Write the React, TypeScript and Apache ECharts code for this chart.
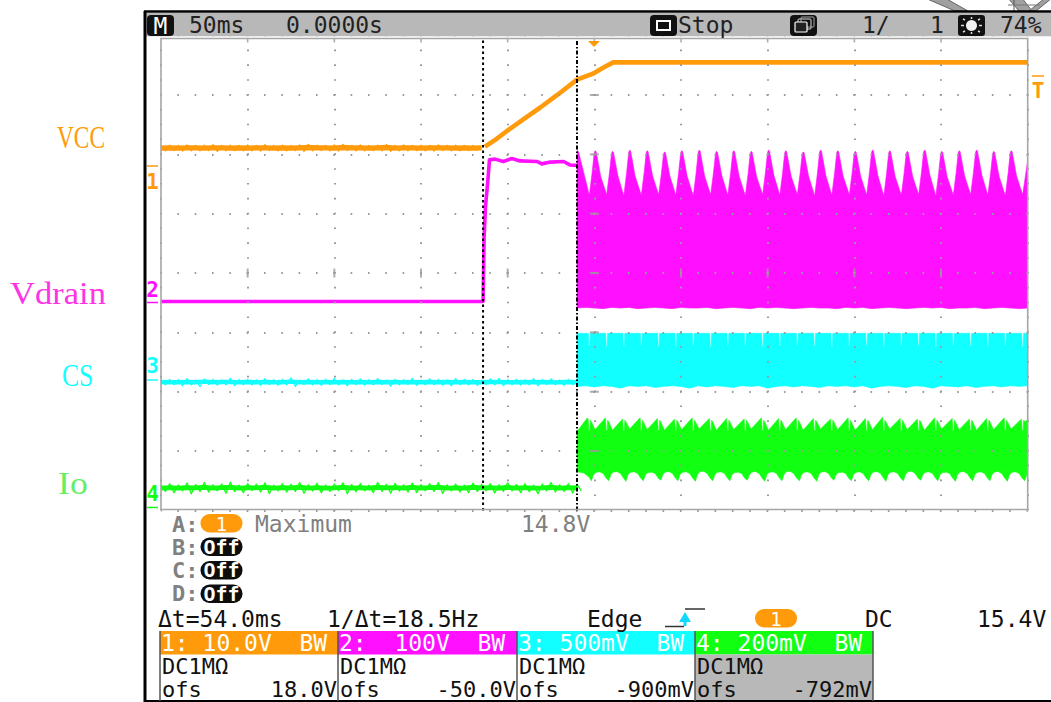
import React, { useEffect, useRef } from "react";
import * as echarts from "echarts";

// Time is in ms (50 ms/div), vertical position in graticule divisions (0 = bottom).
const vccTrace: number[][] = [[186.9, 6.13], [193, 6.25], [199.4, 6.39], [209, 6.59], [218.8, 6.79], [229, 7.01], [240, 7.26], [249.2, 7.36], [255, 7.46], [260.9, 7.55], [300, 7.55], [340, 7.55], [400, 7.55], [500, 7.55]];
const drainPulse: number[][] = [[0, 3.52], [185.8, 3.52], [186.4, 4.61], [187.2, 5.12], [188.6, 5.57], [189.5, 5.91], [192.7, 5.92], [197.5, 5.88], [202.4, 5.93], [207.1, 5.89], [216.8, 5.88], [219.7, 5.84], [224.6, 5.87], [232.3, 5.88], [236.1, 5.82], [240, 5.815]];

const baseTimes = [0, 5, 10, 15, 20, 25, 30, 35, 40, 45, 50, 55, 60, 65, 70, 75, 80, 85, 90, 95, 100, 105, 110, 115, 120, 125, 130, 135, 140, 145, 150, 155, 160, 165, 170, 175, 180, 185, 190, 195, 200, 205, 210, 215, 220, 225, 230, 235, 240];
const vccBase = [6.105, 6.11, 6.105, 6.11, 6.11, 6.105, 6.11, 6.11, 6.105, 6.11, 6.105, 6.11, 6.11, 6.105, 6.11, 6.105, 6.11, 6.115, 6.11, 6.11, 6.105, 6.115, 6.11, 6.11, 6.105, 6.11, 6.115, 6.105, 6.11, 6.11, 6.105, 6.11, 6.11, 6.11, 6.105, 6.11, 6.105, 6.11];
const vccHi = [6.15, 6.155, 6.15, 6.16, 6.15, 6.155, 6.165, 6.15, 6.155, 6.15, 6.16, 6.15, 6.165, 6.15, 6.155, 6.15, 6.16, 6.17, 6.155, 6.15, 6.16, 6.17, 6.15, 6.16, 6.15, 6.155, 6.165, 6.15, 6.16, 6.15, 6.155, 6.15, 6.16, 6.15, 6.155, 6.15, 6.15];
const vccLo = [6.06, 6.065, 6.055, 6.06, 6.06, 6.065, 6.05, 6.06, 6.065, 6.06, 6.06, 6.055, 6.065, 6.06, 6.06, 6.065, 6.05, 6.06, 6.065, 6.06, 6.055, 6.065, 6.06, 6.06, 6.065, 6.06, 6.05, 6.06, 6.06, 6.065, 6.06, 6.055, 6.065, 6.06, 6.06, 6.065, 6.06];
const csBase = [2.165, 2.16, 2.16, 2.165, 2.16, 2.17, 2.16, 2.165, 2.165, 2.16, 2.165, 2.16, 2.165, 2.16, 2.16, 2.17, 2.16, 2.165, 2.16, 2.165, 2.16, 2.165, 2.16, 2.165, 2.16, 2.165, 2.16, 2.165, 2.16, 2.165, 2.16, 2.165, 2.16, 2.165, 2.16, 2.165, 2.16, 2.16, 2.165, 2.165, 2.16, 2.16, 2.165, 2.16, 2.165, 2.16, 2.16, 2.165, 2.16];
const csHi = [2.2, 2.21, 2.205, 2.22, 2.2, 2.215, 2.21, 2.2, 2.225, 2.205, 2.21, 2.2, 2.22, 2.205, 2.21, 2.235, 2.2, 2.215, 2.205, 2.21, 2.225, 2.2, 2.21, 2.215, 2.205, 2.22, 2.2, 2.21, 2.205, 2.225, 2.2, 2.215, 2.21, 2.2, 2.22, 2.205, 2.21, 2.2, 2.215, 2.225, 2.205, 2.21, 2.2, 2.22, 2.205, 2.215, 2.2, 2.21, 2.205];
const csLo = [2.115, 2.12, 2.1, 2.115, 2.085, 2.12, 2.11, 2.115, 2.1, 2.12, 2.115, 2.105, 2.12, 2.11, 2.115, 2.09, 2.12, 2.115, 2.105, 2.12, 2.115, 2.1, 2.12, 2.11, 2.115, 2.12, 2.095, 2.115, 2.12, 2.105, 2.115, 2.12, 2.11, 2.1, 2.12, 2.115, 2.105, 2.12, 2.115, 2.1, 2.12, 2.11, 2.115, 2.1, 2.12, 2.115, 2.105, 2.12, 2.115];
const ioBase = [0.375, 0.385, 0.375, 0.385, 0.38, 0.39, 0.375, 0.385, 0.39, 0.375, 0.385, 0.38, 0.39, 0.375, 0.385, 0.38, 0.39, 0.375, 0.385, 0.375, 0.38, 0.39, 0.375, 0.385, 0.375, 0.39, 0.38, 0.385, 0.375, 0.39, 0.375, 0.385, 0.39, 0.375, 0.38, 0.375, 0.39, 0.38, 0.385, 0.375, 0.39, 0.375, 0.385, 0.375, 0.38, 0.39, 0.375, 0.385, 0.38];
const ioHi = [0.43, 0.45, 0.425, 0.46, 0.435, 0.47, 0.43, 0.445, 0.475, 0.425, 0.45, 0.44, 0.465, 0.425, 0.45, 0.44, 0.47, 0.43, 0.455, 0.425, 0.445, 0.465, 0.435, 0.45, 0.425, 0.47, 0.44, 0.455, 0.43, 0.46, 0.435, 0.45, 0.47, 0.43, 0.445, 0.425, 0.46, 0.44, 0.45, 0.43, 0.465, 0.435, 0.45, 0.425, 0.445, 0.47, 0.43, 0.45, 0.44];
const ioLo = [0.32, 0.3, 0.33, 0.28, 0.32, 0.31, 0.33, 0.29, 0.32, 0.3, 0.335, 0.31, 0.285, 0.33, 0.31, 0.32, 0.29, 0.33, 0.3, 0.32, 0.335, 0.28, 0.315, 0.33, 0.3, 0.32, 0.29, 0.33, 0.31, 0.3, 0.33, 0.32, 0.285, 0.33, 0.31, 0.3, 0.32, 0.33, 0.295, 0.32, 0.33, 0.3, 0.315, 0.28, 0.33, 0.31, 0.32, 0.295, 0.33];

const notchTimes = [247.1, 257.1, 267.0, 277.1, 287.1, 297.0, 307.1, 317.1, 327.0, 337.1, 347.1, 357.0, 367.1, 377.1, 387.0, 397.1, 407.1, 417.0, 427.1, 437.1, 447.0, 457.1, 467.1, 477.0, 487.1, 497.1];
const drainPeaks = [6.07, 6.06, 6.05, 6.07, 6.06, 6.04, 6.06, 6.07, 6.05, 6.06, 6.05, 6.07, 6.06, 6.04, 6.07, 6.06, 6.05, 6.07, 6.06, 6.05, 6.07, 6.05, 6.06, 6.07, 6.05, 6.06, 5.9];
const drainValleys = [5.31, 5.32, 5.3, 5.31, 5.32, 5.31, 5.3, 5.32, 5.31, 5.3, 5.32, 5.31, 5.32, 5.3, 5.31, 5.32, 5.31, 5.3, 5.31, 5.32, 5.3, 5.31, 5.32, 5.31, 5.3, 5.32];
const sampleTimes = [240, 245, 250, 255, 260, 265, 270, 275, 280, 285, 290, 295, 300, 305, 310, 315, 320, 325, 330, 335, 340, 345, 350, 355, 360, 365, 370, 375, 380, 385, 390, 395, 400, 405, 410, 415, 420, 425, 430, 435, 440, 445, 450, 455, 460, 465, 470, 475, 480, 485, 490, 495, 500];
const drainFloor = [3.41, 3.42, 3.41, 3.4, 3.42, 3.41, 3.42, 3.4, 3.41, 3.42, 3.41, 3.4, 3.42, 3.41, 3.41, 3.42, 3.4, 3.41, 3.42, 3.41, 3.4, 3.42, 3.41, 3.42, 3.41, 3.4, 3.41, 3.42, 3.41, 3.41, 3.4, 3.42, 3.41, 3.42, 3.4, 3.41, 3.42, 3.41, 3.4, 3.41, 3.42, 3.41, 3.42, 3.4, 3.41, 3.41, 3.42, 3.4, 3.41, 3.42, 3.41, 3.4, 3.41];
const csFloor = [2.09, 2.1, 2.08, 2.1, 2.09, 2.06, 2.1, 2.09, 2.1, 2.07, 2.09, 2.1, 2.09, 2.06, 2.1, 2.08, 2.1, 2.09, 2.07, 2.1, 2.09, 2.1, 2.06, 2.09, 2.1, 2.08, 2.1, 2.09, 2.07, 2.1, 2.09, 2.1, 2.08, 2.1, 2.06, 2.09, 2.1, 2.09, 2.07, 2.1, 2.09, 2.06, 2.1, 2.09, 2.08, 2.1, 2.07, 2.09, 2.1, 2.08, 2.1, 2.09, 2.1];
const csNotches = [2.77, 2.76, 2.77, 2.78, 2.76, 2.77, 2.77, 2.76, 2.78, 2.77, 2.76, 2.77, 2.78, 2.77, 2.76, 2.77, 2.78, 2.76, 2.77, 2.77, 2.76, 2.78, 2.77, 2.76, 2.77, 2.76];
const ioPeaks = [1.55, 1.56, 1.54, 1.56, 1.55, 1.54, 1.56, 1.55, 1.55, 1.54, 1.56, 1.55, 1.56, 1.55, 1.54, 1.56, 1.55, 1.57, 1.55, 1.54, 1.56, 1.55, 1.54, 1.55, 1.56, 1.54];
const ioSags = [1.36, 1.35, 1.37, 1.36, 1.35, 1.36, 1.37, 1.35, 1.36, 1.37, 1.35, 1.36, 1.35, 1.37, 1.36, 1.35, 1.36, 1.37, 1.36, 1.35, 1.37, 1.36, 1.35, 1.36, 1.37, 1.36];
const ioLows = [0.5, 0.5, 0.49, 0.5, 0.51, 0.5, 0.49, 0.5, 0.5, 0.51, 0.49, 0.5, 0.5, 0.49, 0.51, 0.5, 0.5, 0.49, 0.5, 0.51, 0.5, 0.49, 0.5, 0.5, 0.49, 0.5];
const ioHighs = [0.65, 0.655, 0.65, 0.645, 0.655, 0.65, 0.66, 0.65, 0.645, 0.655, 0.65, 0.66, 0.65, 0.655, 0.645, 0.65, 0.655, 0.65, 0.66, 0.65, 0.645, 0.655, 0.65, 0.655, 0.65, 0.645];

const centerColumn = [1, 2, 3, 4, 5, 6, 7];
const centerRow = [50, 100, 150, 200, 300, 350, 400, 450];
const frameTicks = [50, 100, 150, 200, 250, 300, 350, 400, 450];
const cursorTimes = [185.8, 240];

const ORANGE = "#ff9a0a";
const MAGENTA = "#ff11ff";
const CYAN = "#11ffff";
const GREEN = "#11ff11";
const MONO = "'DejaVu Sans Mono', monospace";
const SERIF = "'Liberation Serif', serif";

const zigzag = (hi: number[], lo: number[]) => hi.flatMap((h, i) => [[baseTimes[i], h], [baseTimes[i] + 2.5, lo[i]]]);

const drainBand = (): number[][] => {
  const top: number[][] = [[240, 5.9], [240.2, drainPeaks[0]], [240.9, drainPeaks[0] - 0.03]];
  notchTimes.forEach((t, k) => {
    const v = drainValleys[k];
    top.push([t, v]);
    const next = drainPeaks[k + 1];
    if (t + 3.3 < 500) {
      const h = next - v;
      top.push([t + 1.6, v + 0.5 * h], [t + 2.8, v + 0.95 * h], [t + 3.3, next], [t + 3.9, next - 0.01], [t + 6.5, v + 0.5 * h - 0.05]);
    } else {
      top.push([500, next]);
    }
  });
  const bottom = sampleTimes.map((t, k) => [t, drainFloor[k]]).reverse();
  return top.concat(bottom);
};
const csBand = (): number[][] => {
  const top: number[][] = [[240, 2.985]];
  notchTimes.forEach((t, k) => {
    top.push([t - 0.55, 2.985], [t - 0.25, csNotches[k]], [t + 0.25, csNotches[k]], [t + 0.55, 2.985]);
  });
  top.push([500, 2.985]);
  const bottom = sampleTimes.map((t, k) => [t, csFloor[k]]).reverse();
  return top.concat(bottom);
};
const ioBand = (): number[][] => {
  const top: number[][] = [[240, 1.33], [245.7, 1.55]];
  notchTimes.forEach((t, k) => {
    top.push([t - 0.7, ioPeaks[k]], [t - 0.25, 1.34], [t + 0.25, 1.34], [t + 0.6, 1.52], [t + 1.1, 1.5]);
    if (t + 3.3 < 500) top.push([t + 3.3, ioSags[k]]);
    else top.push([500, 1.52]);
  });
  const bottom: number[][] = [[240, 0.652], [244, 0.63], [247, 0.56], [248.2, 0.5]];
  notchTimes.forEach((t, k) => {
    bottom.push([t + 1.2, ioLows[k]], [t + 2.4, 0.6], [t + 3.6, ioHighs[k] - 0.01], [t + 6, ioHighs[k]], [t + 8, 0.62], [t + 9.8, 0.54]);
  });
  const clipped = bottom.filter((p) => p[0] < 500);
  clipped.push([500, 0.63]);
  return top.concat(clipped.reverse());
};

const bandSeries = (name: string, points: number[][], color: string) => ({
  type: "custom",
  name,
  coordinateSystem: "cartesian2d",
  data: points,
  encode: { x: 0, y: 1 },
  clip: true,
  silent: true,
  z: 1,
  renderItem: (params: any, api: any) =>
    params.dataIndex === 0
      ? {
          type: "polygon",
          shape: { points: points.map((p) => api.coord(p)) },
          style: { fill: color, stroke: color, lineWidth: 0.6 },
        }
      : null,
});

const traceSeries = (name: string, data: number[][], color: string, width: number) => ({
  type: "line",
  name,
  data,
  showSymbol: false,
  silent: true,
  z: 1,
  lineStyle: { color, width, join: "round" },
});

const tx = (x: number, y: number, text: string, fill: string, extra: any = {}) => ({
  type: "text",
  x,
  y,
  z: 20,
  silent: true,
  style: { text, fill, font: `${extra.weight || "normal"} ${extra.size || 23}px ${MONO}`, align: extra.align || "left", verticalAlign: "middle" },
});
const box = (x: number, y: number, width: number, height: number, fill: string, r = 0, z = 10) => ({
  type: "rect",
  z,
  silent: true,
  shape: { x, y, width, height, r },
  style: { fill },
});
const seg = (x1: number, y1: number, x2: number, y2: number, stroke: string, lineWidth = 1.5, z = 15) => ({
  type: "line",
  z,
  silent: true,
  shape: { x1, y1, x2, y2 },
  style: { stroke, lineWidth },
});
const poly = (points: number[][], fill: string, stroke?: string, z = 12) => ({
  type: "polygon",
  z,
  silent: true,
  shape: { points },
  style: { fill, stroke: stroke || fill, lineWidth: stroke ? 1 : 0 },
});
const label = (x: number, y: number, text: string, fill: string, scaleX: number) => ({
  type: "text",
  x,
  y,
  scaleX,
  z: 20,
  silent: true,
  style: { text, fill, font: `32px ${SERIF}`, align: "left", verticalAlign: "middle" },
});

const panel = (x0: number, x1: number, head: string, color: string, ofs: string, grey: boolean) => [
  box(x0, 631, x1 - x0, 23.5, color),
  ...(grey ? [box(x0, 654.5, x1 - x0, 46, "#b8b8b8")] : []),
  tx(x0 + 1, 642.5, head, "#ffffff"),
  tx(x0 + 2, 666, "DC1M\u03a9", "#111111", { size: 22 }),
  tx(x0 + 2, 689.2, "ofs", "#111111", { size: 22 }),
  tx(x1 - 1, 689.2, ofs, "#111111", { align: "right", size: 22 }),
];

const overlay = (): any[] => [
  // scanned-page remnant above the screen
  poly([[925, -2], [945, -2], [968, 11], [955, 11]], "#a0a0a0", "#666666", 9),
  poly([[1008, -2], [1022, -2], [1032, 11], [1019, 11]], "#a0a0a0", "#666666", 9),
  poly([[1045, -2], [1052, -2], [1036, 11], [1029, 11]], "#a0a0a0", "#666666", 9),
  seg(1014, 0, 1014, 11, "#555555", 1, 9),
  seg(1008, 5, 1040, 5, "#777777", 1, 9),
  // screen chrome
  box(146, 13, 905, 23.5, "#b8b8b8"),
  box(146, 36.5, 905, 1.5, "#ffffff"),
  seg(144, 11.5, 1051, 11.5, "#000000", 2.5),
  seg(145, 11, 145, 702, "#000000", 3),
  seg(144, 701, 1051, 701, "#000000", 2),
  { type: "rect", z: 14, silent: true, shape: { x: 161, y: 38.5, width: 866.7, height: 471 }, style: { fill: "none", stroke: "#a6a6a6", lineWidth: 1.6 } },
  // header
  box(147, 15, 27, 21, "#111111", 4),
  tx(160.5, 25.5, "M", "#ffffff", { align: "center" }),
  tx(189, 25, "50ms", "#222222"),
  tx(286, 25, "0.0000s", "#222222"),
  box(650, 15, 27, 21, "#111111", 4),
  box(656, 20, 15, 11, "#ffffff"),
  box(658, 22, 11, 7, "#111111"),
  tx(678, 25, "Stop", "#222222"),
  box(790, 15, 27, 21, "#111111", 4),
  { type: "rect", z: 15, silent: true, shape: { x: 798, y: 19, width: 13, height: 10, r: 1 }, style: { fill: "none", stroke: "#dddddd", lineWidth: 1 } },
  { type: "rect", z: 15, silent: true, shape: { x: 801, y: 17, width: 13, height: 10, r: 1 }, style: { fill: "none", stroke: "#aaaaaa", lineWidth: 1 } },
  { type: "rect", z: 16, silent: true, shape: { x: 795, y: 22, width: 12, height: 10, r: 1 }, style: { fill: "#222222", stroke: "#ffffff", lineWidth: 1.2 } },
  tx(862, 25, "1/", "#222222"),
  tx(930, 25, "1", "#222222"),
  box(958, 15, 27, 21, "#111111", 3),
  { type: "circle", z: 15, silent: true, shape: { cx: 971.5, cy: 25.5, r: 5.5 }, style: { fill: "#f2f2f2" } },
  seg(971.5, 17, 971.5, 19, "#dddddd"),
  seg(971.5, 32, 971.5, 34, "#dddddd"),
  seg(961, 25.5, 964, 25.5, "#dddddd"),
  seg(979, 25.5, 982, 25.5, "#dddddd"),
  seg(963, 19, 965, 20, "#dddddd"),
  seg(978, 20, 980, 19, "#dddddd"),
  seg(963, 32, 965, 31, "#dddddd"),
  seg(978, 31, 980, 32, "#dddddd"),
  tx(1000, 25, "74%", "#222222"),
  // trigger + channel markers
  poly([[588, 41], [600, 41], [594, 47]], ORANGE),
  seg(147, 166, 158, 166, ORANGE, 1.5),
  tx(152.5, 182, "1", ORANGE, { align: "center", weight: "bold", size: 21 }),
  tx(152.5, 289.5, "2", MAGENTA, { align: "center", weight: "bold", size: 21 }),
  seg(147, 302.5, 158, 302.5, MAGENTA, 1.5),
  tx(152.5, 366, "3", CYAN, { align: "center", weight: "bold", size: 21 }),
  seg(147, 380, 158, 380, CYAN, 1.5),
  tx(152.5, 493.5, "4", GREEN, { align: "center", weight: "bold", size: 21 }),
  seg(147, 507.5, 158, 507.5, GREEN, 1.5),
  seg(1032, 76, 1044, 76, ORANGE, 1.5),
  tx(1038, 91, "T", ORANGE, { align: "center", weight: "bold", size: 21 }),
  // external labels
  label(57, 137, "VCC", ORANGE, 0.73),
  label(10, 293, "Vdrain", "#ff33e6", 1.08),
  label(62, 375, "CS", "#11ffff", 0.8),
  label(58, 483, "Io", "#66ee66", 1.12),
  // measurements
  tx(172, 524, "A:", "#808080", { weight: "bold", size: 22 }),
  box(200.5, 514, 42, 18.5, ORANGE, 9),
  tx(221.5, 524, "1", "#ffffff", { align: "center", size: 19 }),
  tx(255, 524, "Maximum", "#808080"),
  tx(521, 524, "14.8V", "#808080"),
  tx(172, 547, "B:", "#808080", { weight: "bold", size: 22 }),
  box(200.5, 537.5, 42, 18.5, "#0d0d0d", 9),
  tx(221.5, 547, "Off", "#ffffff", { align: "center", size: 20, weight: "bold" }),
  tx(172, 570, "C:", "#808080", { weight: "bold", size: 22 }),
  box(200.5, 561, 42, 18.5, "#0d0d0d", 9),
  tx(221.5, 570, "Off", "#ffffff", { align: "center", size: 20, weight: "bold" }),
  tx(172, 593, "D:", "#808080", { weight: "bold", size: 22 }),
  box(200.5, 584.5, 42, 18.5, "#0d0d0d", 9),
  tx(221.5, 594, "Off", "#ffffff", { align: "center", size: 20, weight: "bold" }),
  tx(158, 619, "\u0394t=54.0ms", "#111111"),
  tx(327, 619, "1/\u0394t=18.5Hz", "#111111"),
  tx(587, 619, "Edge", "#111111"),
  seg(665, 626.5, 684, 626.5, "#333333"),
  seg(685, 609, 705, 609, "#333333"),
  poly([[685, 612], [691, 622], [679, 622]], "#11d8ff"),
  box(683.5, 620, 3, 6, "#11d8ff", 0, 12),
  box(755, 609, 42, 18.5, ORANGE, 9),
  tx(776, 619, "1", "#ffffff", { align: "center", size: 19 }),
  tx(865, 619, "DC", "#111111"),
  tx(977, 619, "15.4V", "#111111"),
  // channel panels
  ...panel(160, 338, "1: 10.0V  BW", ORANGE, "18.0V", false),
  ...panel(338, 517, "2:  100V  BW", MAGENTA, "-50.0V", false),
  ...panel(517, 695, "3: 500mV  BW", CYAN, "-900mV", false),
  ...panel(695, 873, "4: 200mV  BW", GREEN, "-792mV", true),
  seg(160, 631, 160, 701, "#555555", 1.5),
  seg(338, 631, 338, 701, "#555555", 1.5),
  seg(517, 631, 517, 701, "#555555", 1.5),
  seg(695, 631, 695, 701, "#555555", 1.5),
  seg(873, 631, 873, 701, "#555555", 1.5),
];

export default function App() {
  const ref = useRef<HTMLDivElement>(null);
  useEffect(() => {
    document.body.style.margin = "0";
    const chart = echarts.init(ref.current!, undefined, { renderer: "svg" });
    const grey = "#9a9a9a";
    chart.setOption({
      animation: false,
      backgroundColor: "#ffffff",
      grid: { left: 161, top: 35.7, width: 866.7, height: 474.7, show: false },
      xAxis: {
        type: "value",
        min: 0,
        max: 500,
        interval: 50,
        z: 5,
        axisLabel: { show: false },
        axisTick: { show: false },
        axisLine: { show: false },
        splitLine: { show: true, lineStyle: { color: grey, width: 2, type: [1.6, 13.23], dashOffset: 0.8 } },
      },
      yAxis: {
        type: "value",
        min: 0,
        max: 8,
        interval: 1,
        z: 5,
        axisLabel: { show: false },
        axisTick: { show: false },
        axisLine: { show: false },
        splitLine: { show: true, lineStyle: { color: grey, width: 2, type: [1.6, 15.73], dashOffset: 0.8 } },
      },
      series: [
        traceSeries("VCC base", vccBase.map((v, i) => [baseTimes[i], v]), ORANGE, 5.4),
        traceSeries("VCC noise", zigzag(vccHi, vccLo), ORANGE, 1.2),
        traceSeries("VCC", vccTrace, ORANGE, 4.6),
        traceSeries("Vdrain off", drainPulse, MAGENTA, 3.6),
        traceSeries("CS base", csBase.map((v, i) => [baseTimes[i], v]), CYAN, 4.4),
        traceSeries("CS noise", zigzag(csHi, csLo), CYAN, 1.2),
        traceSeries("Io base", ioBase.map((v, i) => [baseTimes[i], v]), GREEN, 4.8),
        traceSeries("Io noise", zigzag(ioHi, ioLo), GREEN, 1.3),
        bandSeries("Vdrain", drainBand(), MAGENTA),
        bandSeries("CS", csBand(), CYAN),
        bandSeries("Io", ioBand(), GREEN),
        {
          type: "scatter",
          name: "centre column ticks",
          symbol: "rect",
          symbolSize: [9, 2],
          silent: true,
          z: 6,
          itemStyle: { color: grey },
          data: centerColumn.map((y) => [250, y]),
        },
        {
          type: "scatter",
          name: "centre row ticks",
          symbol: "rect",
          symbolSize: [2, 9],
          silent: true,
          z: 6,
          itemStyle: { color: grey },
          data: centerRow.map((x) => [x, 4]),
        },
        {
          type: "scatter",
          name: "frame ticks",
          symbol: "rect",
          symbolSize: [1.6, 4],
          silent: true,
          z: 6,
          itemStyle: { color: grey },
          data: frameTicks.map((x) => [x, 7.92]),
        },
        {
          type: "line",
          name: "cursor a",
          silent: true,
          showSymbol: false,
          z: 8,
          lineStyle: { color: "#000000", width: 2, type: [2.5, 3] },
          data: [[cursorTimes[0], 0], [cursorTimes[0], 7.95]],
        },
        {
          type: "line",
          name: "cursor b",
          silent: true,
          showSymbol: false,
          z: 8,
          lineStyle: { color: "#000000", width: 2, type: [4, 2, 1.5, 2] },
          data: [[cursorTimes[1], 0], [cursorTimes[1], 7.95]],
        },
      ],
      graphic: overlay(),
    });
    return () => chart.dispose();
  }, []);
  return <div ref={ref} style={{ width: 1051, height: 702 }} />;
}
